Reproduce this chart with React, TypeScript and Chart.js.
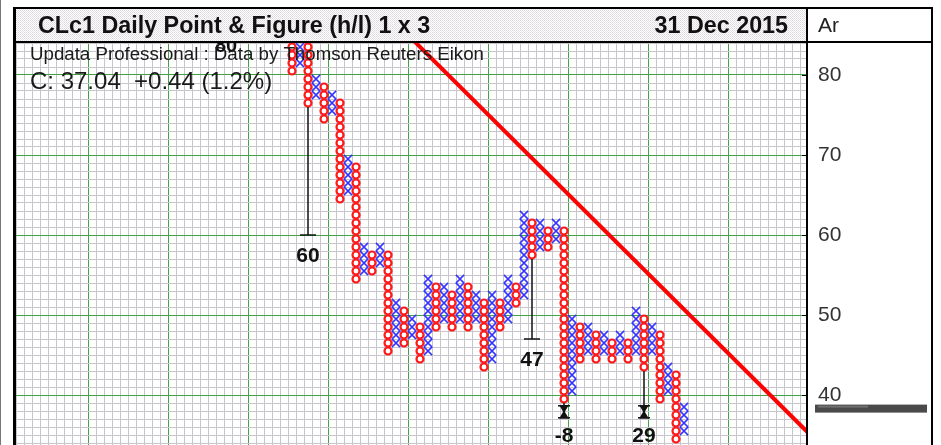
import React, { useEffect, useRef } from 'react';
import { Chart, registerables } from 'chart.js';

Chart.register(...registerables);

// ---- Point & Figure columns (box size 1, 3-box reversal) ----
const columnKinds = ['O','X','O','X','O','X','O','X','O','X','O','X','O','X','O','X','O','X','O','X','O','X','O','X','O','X','O','X','O','X','O','X','O','X','O','X','O','X','O','X','O','X','O','X','O','X','O','X','O','X'];
const columnLows = [80,81,76,77,74,75,64,65,54,55,55,56,45,46,46,47,44,45,48,49,48,49,48,49,43,44,48,49,51,52,57,58,58,59,39,40,44,45,44,45,44,45,44,45,43,45,39,40,34,35];
const columnHighs = [86,85,84,80,79,78,77,70,69,59,58,59,58,52,51,50,49,55,54,54,53,55,54,53,52,53,52,55,54,63,62,62,61,62,61,50,49,49,48,48,47,48,47,51,50,49,48,44,43,39];

// ---- vertical counts ----
const countColumns = [2, 30, 34, 44];
const countTargets = [60, 47, -8, 29];
const countFloor = 37.9; // level where off-chart targets are marked

// ---- trend line (column, price) ----
const trendColumns = [14, 66];
const trendPrices = [85.5, 33.8];

// ---- axis ----
const priceMin = 28;
const priceMax = 84;
const columnMin = -34.5;
const columnMax = 64.25;
const lastPrice = 38.3;

// ---- texts ----
const titleText = 'CLc1 Daily Point & Figure (h/l) 1 x 3';
const dateText = '31 Dec 2015';
const panelText = 'Ar';
const sourceText = 'Updata Professional : Data by Thomson Reuters Eikon';
const closeText = 'C: 37.04  +0.44 (1.2%)';
const strayLabel = '80';

const FONT = '"Liberation Sans", Arial, sans-serif';

function buildBoxes(kind: string) {
  const pts: { x: number; y: number }[] = [];
  columnKinds.forEach((k, i) => {
    if (k !== kind) return;
    for (let p = columnLows[i]; p < columnHighs[i]; p++) pts.push({ x: i, y: p + 0.5 });
  });
  return pts;
}

function makePattern(ctx: CanvasRenderingContext2D) {
  const c = document.createElement('canvas');
  c.width = 2; c.height = 2;
  const g = c.getContext('2d')!;
  g.fillStyle = '#ffffff'; g.fillRect(0, 0, 2, 2);
  g.fillStyle = '#dcd8de'; g.fillRect(0, 0, 1, 1);
  g.fillStyle = '#e6e2e6'; g.fillRect(1, 1, 1, 1);
  return ctx.createPattern(c, 'repeat');
}

const framePlugin = {
  id: 'pfFrame',
  beforeDraw(chart: any) {
    const { ctx, width, height } = chart;
    ctx.save();
    ctx.fillStyle = '#ffffff';
    ctx.fillRect(0, 0, width, height);
    ctx.fillStyle = makePattern(ctx) || '#eeeeee';
    ctx.fillRect(16, 9, 790, 32);
    ctx.restore();
  },
  afterDatasetsDraw(chart: any) {
    const { ctx, chartArea: a, scales } = chart;
    const xs = scales.x, ys = scales.y;
    ctx.save();
    ctx.beginPath();
    ctx.rect(a.left, a.top, a.right - a.left, a.bottom - a.top);
    ctx.clip();
    // stray count label at top
    ctx.fillStyle = '#111';
    ctx.font = 'bold 20px ' + FONT;
    ctx.textAlign = 'center';
    ctx.textBaseline = 'alphabetic';
    ctx.fillText(strayLabel, xs.getPixelForValue(-8.25), ys.getPixelForValue(82.85));
    // header texts
    ctx.textAlign = 'left';
    ctx.fillStyle = '#1a1a1a';
    ctx.font = '18.7px ' + FONT;
    ctx.fillText(sourceText, 30, 59.5);
    ctx.font = '24px ' + FONT;
    ctx.fillText(closeText, 30, 88.5);
    // count labels
    ctx.fillStyle = '#111';
    ctx.font = 'bold 21px ' + FONT;
    ctx.textAlign = 'center';
    countColumns.forEach((col, i) => {
      const t = countTargets[i];
      const center = t >= countFloor ? t - 2.4 : countFloor - 2.8;
      ctx.fillText(String(t), xs.getPixelForValue(col), ys.getPixelForValue(center) + 7.5);
    });
    ctx.restore();
  },
  afterDraw(chart: any) {
    const { ctx, chartArea: a, scales } = chart;
    const ys = scales.y;
    ctx.save();
    // inward tick marks on major levels
    ctx.fillStyle = '#000';
    for (let v = 40; v <= 80; v += 10) {
      const py = Math.round(ys.getPixelForValue(v));
      ctx.fillRect(a.right - 4, py, 4, 1);
    }
    // last price marker in the axis panel
    const top = ys.getPixelForValue(lastPrice + 0.5);
    const bot = ys.getPixelForValue(lastPrice - 0.5);
    ctx.fillStyle = '#4a4a4a';
    ctx.fillRect(815, top, 112, bot - top);
    ctx.fillStyle = '#707070';
    ctx.fillRect(818, top + 1, 50, 2);
    // frame
    ctx.fillStyle = '#000';
    ctx.fillRect(13, 7, 920, 2);      // top
    ctx.fillRect(13, 7, 3, 540);      // left
    ctx.fillRect(931, 7, 2, 540);     // right
    ctx.fillRect(13, 41, 920, 2);     // under title
    ctx.fillRect(806, 7, 2, 540);     // axis separator
    ctx.fillStyle = '#777';
    ctx.fillRect(0, 0, 1, 540);
    // titles
    ctx.fillStyle = '#111';
    ctx.font = 'bold 23.3px ' + FONT;
    ctx.textBaseline = 'alphabetic';
    ctx.textAlign = 'left';
    ctx.fillText(titleText, 38, 33);
    ctx.textAlign = 'right';
    ctx.fillText(dateText, 788, 33);
    ctx.textAlign = 'left';
    ctx.font = '21px ' + FONT;
    ctx.fillStyle = '#222';
    ctx.fillText(panelText, 818, 32);
    ctx.restore();
  },
};

export default function App() {
  const ref = useRef<HTMLCanvasElement>(null);
  useEffect(() => {
    const canvas = ref.current;
    if (!canvas) return;

    const xBoxes = buildBoxes('X');
    const oBoxes = buildBoxes('O');

    const countSets = countColumns.map((col, i) => {
      const t = countTargets[i];
      const onChart = t >= countFloor;
      const end = onChart ? t : countFloor + 0.75;
      return {
        type: 'line' as const,
        data: [{ x: col, y: columnLows[col] }, { x: col, y: end }],
        borderColor: '#111',
        borderWidth: 1.5,
        showLine: true,
        pointStyle: 'line',
        pointRadius: [0, onChart ? 8 : 0],
        pointBorderColor: '#111',
        pointBorderWidth: 1.5,
        order: 1,
      };
    });

    const markerPts: any[] = [];
    const markerStyles: any[] = [];
    const markerRot: number[] = [];
    const markerRad: number[] = [];
    countColumns.forEach((col, i) => {
      if (countTargets[i] >= countFloor) return;
      markerPts.push({ x: col, y: countFloor + 0.75 }); markerStyles.push('line'); markerRot.push(0); markerRad.push(6);
      markerPts.push({ x: col, y: countFloor + 0.5 }); markerStyles.push('triangle'); markerRot.push(180); markerRad.push(4);
      markerPts.push({ x: col, y: countFloor - 0.5 }); markerStyles.push('triangle'); markerRot.push(0); markerRad.push(4);
      markerPts.push({ x: col, y: countFloor - 0.75 }); markerStyles.push('line'); markerRot.push(0); markerRad.push(6);
    });

    const gridColor = (major: (v: number) => boolean) => (c: any) =>
      c.tick && major(c.tick.value) ? '#44a044' : '#c9c5cd';

    const chart = new Chart(canvas, {
      type: 'scatter',
      data: {
        datasets: [
          {
            type: 'line',
            data: trendColumns.map((c, i) => ({ x: c, y: trendPrices[i] })),
            borderColor: '#ff0000',
            borderWidth: 4,
            pointRadius: 0,
            showLine: true,
            order: 0,
          } as any,
          ...(countSets as any[]),
          {
            data: markerPts,
            showLine: false,
            pointStyle: markerStyles,
            rotation: markerRot,
            pointRadius: markerRad,
            backgroundColor: '#111',
            borderColor: '#111',
            borderWidth: 1.5,
            order: 1,
          } as any,
          {
            data: xBoxes,
            showLine: false,
            pointStyle: 'crossRot',
            pointRadius: 5.8,
            borderColor: '#3434ff',
            backgroundColor: '#3434ff',
            borderWidth: 1.5,
            order: 2,
          } as any,
          {
            data: oBoxes,
            showLine: false,
            pointStyle: 'circle',
            pointRadius: 3.5,
            borderColor: '#ff1a1a',
            backgroundColor: '#ffffff',
            borderWidth: 2.2,
            order: 2,
          } as any,
        ],
      },
      options: {
        animation: false,
        responsive: false,
        maintainAspectRatio: false,
        events: [],
        layout: { padding: { left: 16, top: 43, right: 9, bottom: 39 } },
        plugins: { legend: { display: false }, tooltip: { enabled: false } },
        scales: {
          x: {
            type: 'linear',
            position: 'bottom',
            min: columnMin,
            max: columnMax,
            afterBuildTicks: (s: any) => {
              const t: any[] = [];
              for (let v = columnMin; v < columnMax; v += 1) t.push({ value: v });
              s.ticks = t;
            },
            afterFit: (s: any) => { s.height = 0; },
            ticks: { display: false },
            border: { display: false },
            grid: {
              drawTicks: false,
              lineWidth: 1,
              color: gridColor((v) => Math.abs((v + 25.5) % 10) < 1e-6),
            },
          },
          y: {
            type: 'linear',
            position: 'right',
            min: priceMin,
            max: priceMax,
            afterFit: (s: any) => { s.width = 126; },
            ticks: {
              stepSize: 1,
              autoSkip: false,
              padding: 12,
              color: '#333',
              font: { family: FONT, size: 21 },
              callback: (v: any) => (Number(v) % 10 === 0 ? String(v) : ''),
            },
            border: { display: false },
            grid: {
              drawTicks: false,
              lineWidth: 1,
              color: gridColor((v) => v % 10 === 0),
            },
          },
        },
      } as any,
      plugins: [framePlugin as any],
    });
    return () => chart.destroy();
  }, []);

  return (
    <div style={{ position: 'fixed', left: 0, top: 0, width: 941, height: 445, overflow: 'hidden', background: '#fff' }}>
      <canvas ref={ref} width={941} height={530} style={{ display: 'block', width: 941, height: 530 }} />
    </div>
  );
}
